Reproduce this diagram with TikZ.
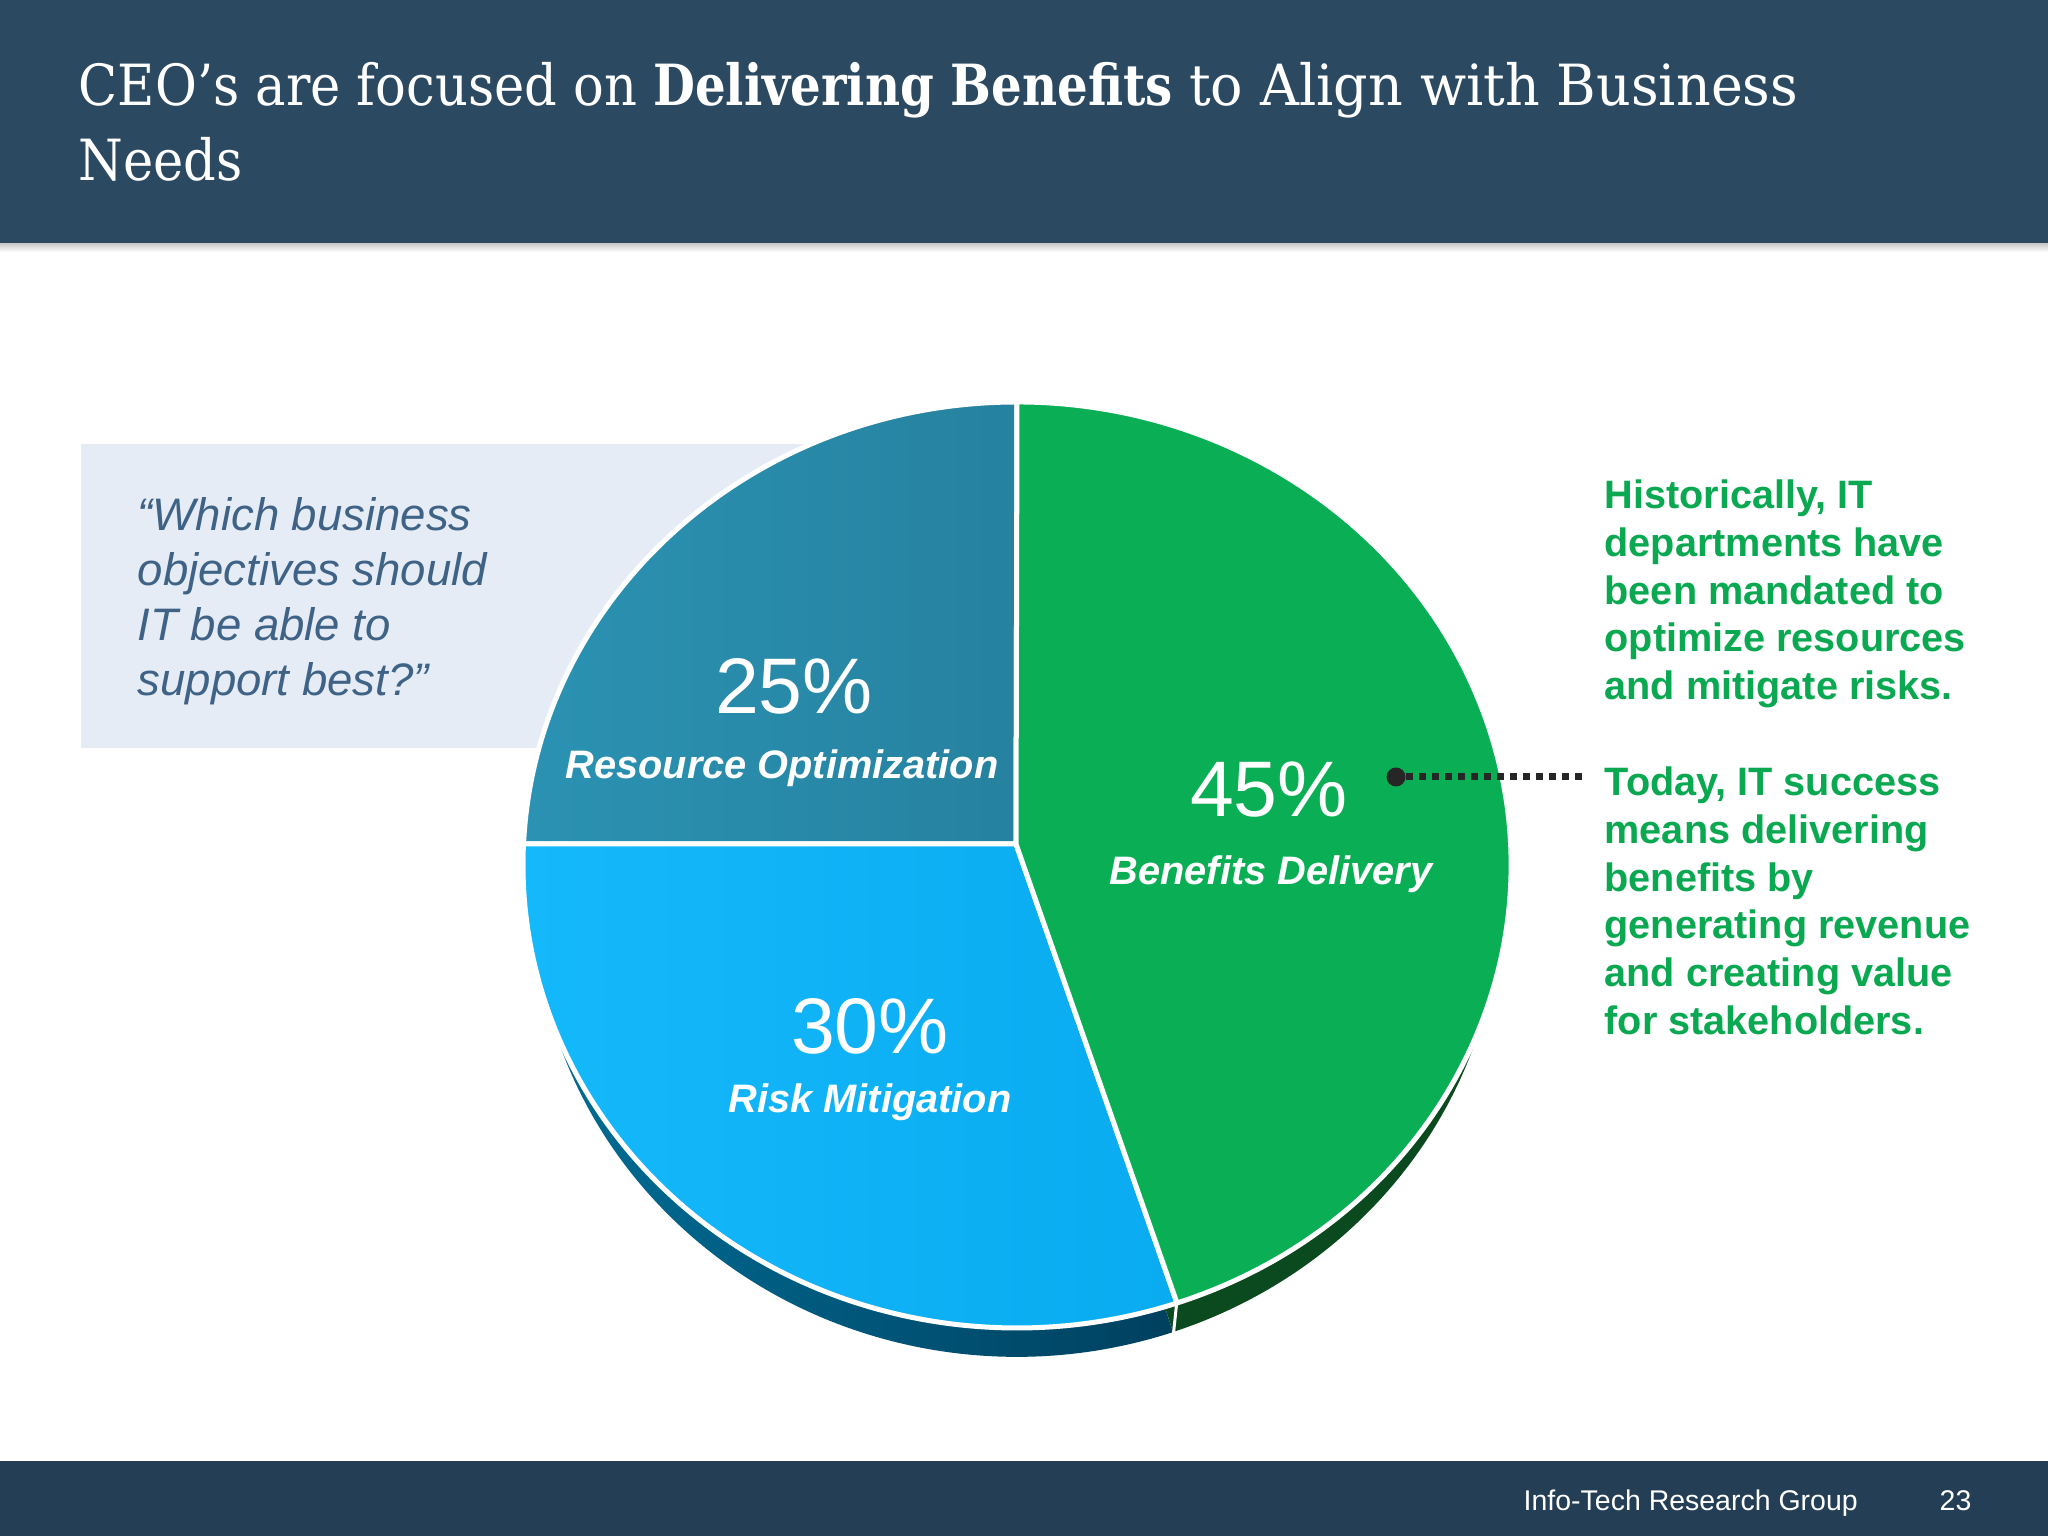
\documentclass[tikz,border=0pt]{standalone}
\usepackage{fontspec}
\setmainfont{Liberation Sans}
\newfontfamily\slabfont[BoldFeatures={FakeStretch=0.945}]{DejaVu Serif Condensed}
\definecolor{headbar}{HTML}{2B4960}
\definecolor{footbar}{HTML}{243F55}
\definecolor{quotebg}{HTML}{E6ECF5}
\definecolor{quotetxt}{HTML}{3F6386}
\definecolor{piegreen}{HTML}{0AAE54}
\definecolor{pietxt}{HTML}{0AA851}
\definecolor{tealleft}{HTML}{2B92B3}
\definecolor{tealright}{HTML}{26829F}
\definecolor{blueleft}{HTML}{14B9FB}
\definecolor{blueright}{HTML}{0AABF0}
\definecolor{rimleft}{HTML}{006C94}
\definecolor{rimright}{HTML}{00405F}
\definecolor{rimgreen}{HTML}{0A4A1E}
\tikzset{
    slice/.style={draw=white, line width=0.05cm, line join=round},
    pct/.style={text=white, font=\fontsize{22.4}{26}\selectfont},
    lbl/.style={text=white, font=\fontsize{11.3}{13}\selectfont\bfseries\itshape},
    side/.style={font=\fontsize{11.27}{13.6}\selectfont\bfseries, text=pietxt, align=left, anchor=north west, inner sep=0pt},
    foot/.style={text=white, font=\fontsize{8.1}{9}\selectfont, anchor=base west, inner sep=0pt}
}
\begin{document}
\begin{tikzpicture}[x=0.01cm,y=0.01cm]
    \useasboundingbox (0,0) rectangle (2048,1536);
    \fill[white] (0,0) rectangle (2048,1536);
    % header and footer
    \shade[top color=black!22, bottom color=white] (0,1293) rectangle (2048,1284);
    \fill[headbar] (0,1293) rectangle (2048,1536);
    \fill[footbar] (0,0) rectangle (2048,75);
    \node[text=white, font=\fontsize{16.15}{21.3}\selectfont\slabfont, align=left, anchor=north west, inner sep=0pt] (title) at (78,1474)
        {CEO’s are focused on \textbf{Delivering Benefits} {\addfontfeature{FakeStretch=1.055}to Align with Business}\\Needs};
    \node[foot] (group) at (1523,25) {Info-Tech Research Group};
    \node[foot] (page) at (1939,25) {23};
    % quote box
    \fill[quotebg] (81,788) rectangle (900,1092);
    \node[text=quotetxt, font=\fontsize{12.95}{15.6}\selectfont\itshape, align=left, anchor=north west, inner sep=0pt] (quote) at (137,1039)
        {“Which business\\objectives should\\IT be able to\\support best?”};
    % pie
    \coordinate (apex) at (1016,692);
    \shade[left color=rimleft, right color=rimright] (apex) -- (551.5,516) arc[start angle=195.9, end angle=288.8, x radius=484, y radius=464] -- cycle;
    \fill[rimgreen] (apex) -- (1173,204) arc[start angle=288.8, end angle=344.1, x radius=484, y radius=464] -- cycle;
    \draw[white, line width=0.03cm] (1177,236) -- (1173,198);
    \shade[slice, left color=tealleft, right color=tealright] (apex) -- (1017,1134) arc[start angle=90, end angle=177.4, x radius=494, y radius=463] -- cycle;
    \shade[slice, left color=blueleft, right color=blueright] (apex) -- (523.5,692) arc[start angle=177.4, end angle=288.9, x radius=494, y radius=463] -- cycle;
    \draw[slice, fill=piegreen] (apex) -- (1177,233) arc[start angle=288.9, end angle=450, x radius=494, y radius=463] -- cycle;
    \node[pct] (pctres) at (794,850) {25\%};
    \node[lbl] (lblres) at (782,768) {Resource Optimization};
    \node[pct] (pctben) at (1269,746) {45\%};
    \node[lbl] (lblben) at (1271,662) {Benefits Delivery};
    \node[pct] (pctrisk) at (870,510) {30\%};
    \node[lbl] (lblrisk) at (870,434) {Risk Mitigation};
    % callout
    \node[circle, fill=black!85, inner sep=0pt, minimum size=0.19cm] (dot) at (1396,759) {};
    \coordinate (dotend) at (1586,759);
    \draw[black!85, line width=0.07cm, dash pattern=on 0.07cm off 0.06cm] (dot) -- (dotend);
    \node[side] (hist) at (1604,1057)
        {Historically, IT\\departments have\\been mandated to\\optimize resources\\and mitigate risks.};
    \node[side] (today) at (1604,770)
        {Today, IT success\\means delivering\\benefits by\\generating revenue\\and creating value\\for stakeholders.};
\end{tikzpicture}
\end{document}
